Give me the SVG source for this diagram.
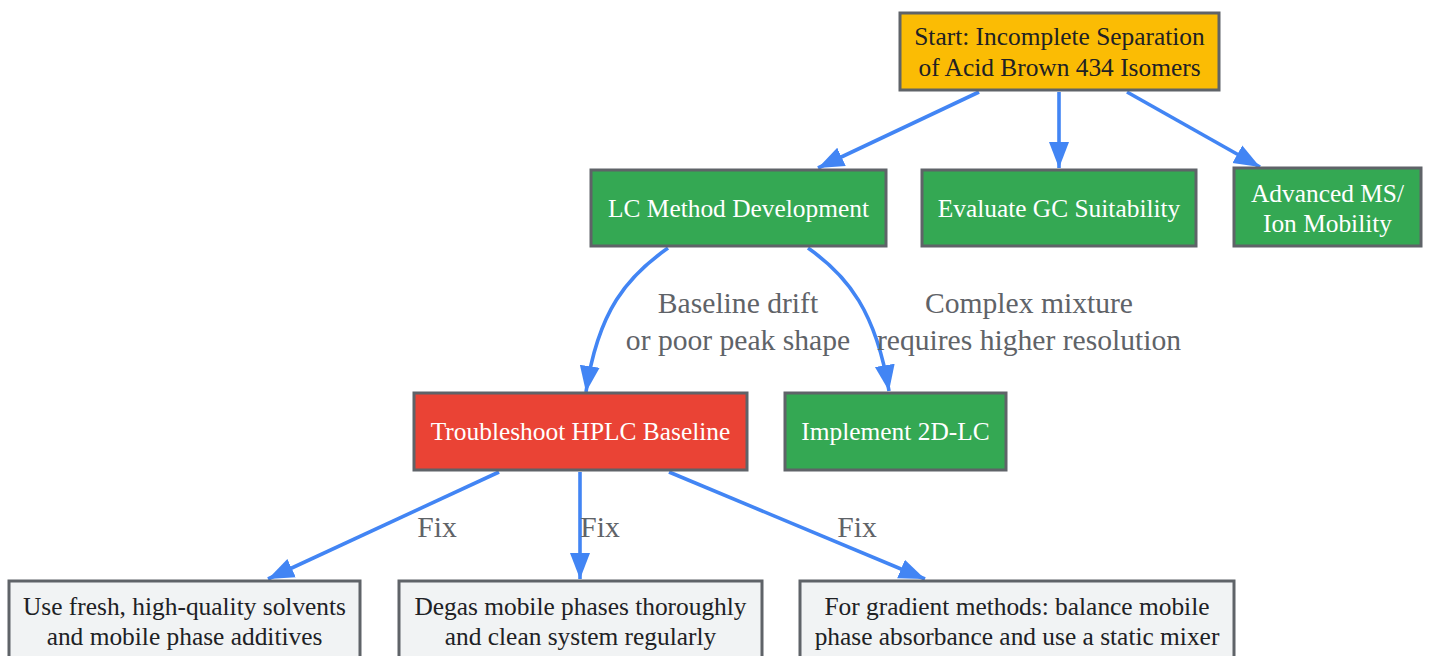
<svg xmlns="http://www.w3.org/2000/svg" width="1429" height="656" viewBox="0 0 1429 656">
<style>
.n{stroke:#5f6368;stroke-width:3}
.t{font-family:"Liberation Serif","Times New Roman",serif;font-size:25.4px;text-anchor:middle}
.dk{fill:#202124}
.wh{fill:#ffffff}
.e{fill:none;stroke:#4285f4;stroke-width:3.6}
.l{font-family:"Liberation Serif","Times New Roman",serif;font-size:29.6px;fill:#5f6368;text-anchor:middle}
</style>
<defs>
<marker id="ah" markerUnits="userSpaceOnUse" markerWidth="28" markerHeight="22" refX="26" refY="10" orient="auto" viewBox="0 0 28 20">
<path d="M0,0 L26,10 L0,20 Z" fill="#4285f4"/>
</marker>
</defs>
<rect width="1429" height="656" fill="#ffffff"/>
<g id="connectors">
<path class="e" marker-end="url(#ah)" d="M979,92 L818,168"/>
<path class="e" marker-end="url(#ah)" d="M1059,92 L1059,168"/>
<path class="e" marker-end="url(#ah)" d="M1127,92 L1260,167"/>
<path class="e" marker-end="url(#ah)" d="M668,248 C628,276 598,310 586,392"/>
<path class="e" marker-end="url(#ah)" d="M808,248 C848,276 876,312 889,391"/>
<path class="e" marker-end="url(#ah)" d="M499,472 L268,579"/>
<path class="e" marker-end="url(#ah)" d="M580,472 L580,579"/>
<path class="e" marker-end="url(#ah)" d="M669,472 L925,579"/>
<text class="l" x="738" y="313">Baseline drift</text>
<text class="l" x="738" y="350">or poor peak shape</text>
<text class="l" x="1029" y="313">Complex mixture</text>
<text class="l" x="1029" y="350">requires higher resolution</text>
<text class="l" x="437" y="537">Fix</text>
<text class="l" x="600" y="537">Fix</text>
<text class="l" x="857" y="537">Fix</text>
</g>
<g id="start">
<rect class="n" x="900" y="13" width="319" height="77" fill="#fbbc04"/>
<text class="t dk" x="1059.5" y="45">Start: Incomplete Separation</text>
<text class="t dk" x="1059.5" y="76">of Acid Brown 434 Isomers</text>
</g>
<g id="lc">
<rect class="n" x="591" y="170" width="295" height="76" fill="#34a853"/>
<text class="t wh" x="738.5" y="217">LC Method Development</text>
</g>
<g id="gc">
<rect class="n" x="922" y="170" width="274" height="76" fill="#34a853"/>
<text class="t wh" x="1059" y="217">Evaluate GC Suitability</text>
</g>
<g id="ms">
<rect class="n" x="1234" y="168" width="187" height="78" fill="#34a853"/>
<text class="t wh" x="1327.5" y="202">Advanced MS/</text>
<text class="t wh" x="1327.5" y="232">Ion Mobility</text>
</g>
<g id="hplc">
<rect class="n" x="414" y="393" width="333" height="77" fill="#ea4335"/>
<text class="t wh" x="580.5" y="440">Troubleshoot HPLC Baseline</text>
</g>
<g id="lc2d">
<rect class="n" x="785" y="393" width="221" height="77" fill="#34a853"/>
<text class="t wh" x="895.5" y="440">Implement 2D-LC</text>
</g>
<g id="fix1">
<rect class="n" x="9" y="581" width="351" height="90" fill="#f1f3f4"/>
<text class="t dk" x="184.5" y="615">Use fresh, high-quality solvents</text>
<text class="t dk" x="184.5" y="645">and mobile phase additives</text>
</g>
<g id="fix2">
<rect class="n" x="399" y="581" width="363" height="90" fill="#f1f3f4"/>
<text class="t dk" x="580.5" y="615">Degas mobile phases thoroughly</text>
<text class="t dk" x="580.5" y="645">and clean system regularly</text>
</g>
<g id="fix3">
<rect class="n" x="800" y="581" width="434" height="90" fill="#f1f3f4"/>
<text class="t dk" x="1017" y="615">For gradient methods: balance mobile</text>
<text class="t dk" x="1017" y="645">phase absorbance and use a static mixer</text>
</g>
</svg>
